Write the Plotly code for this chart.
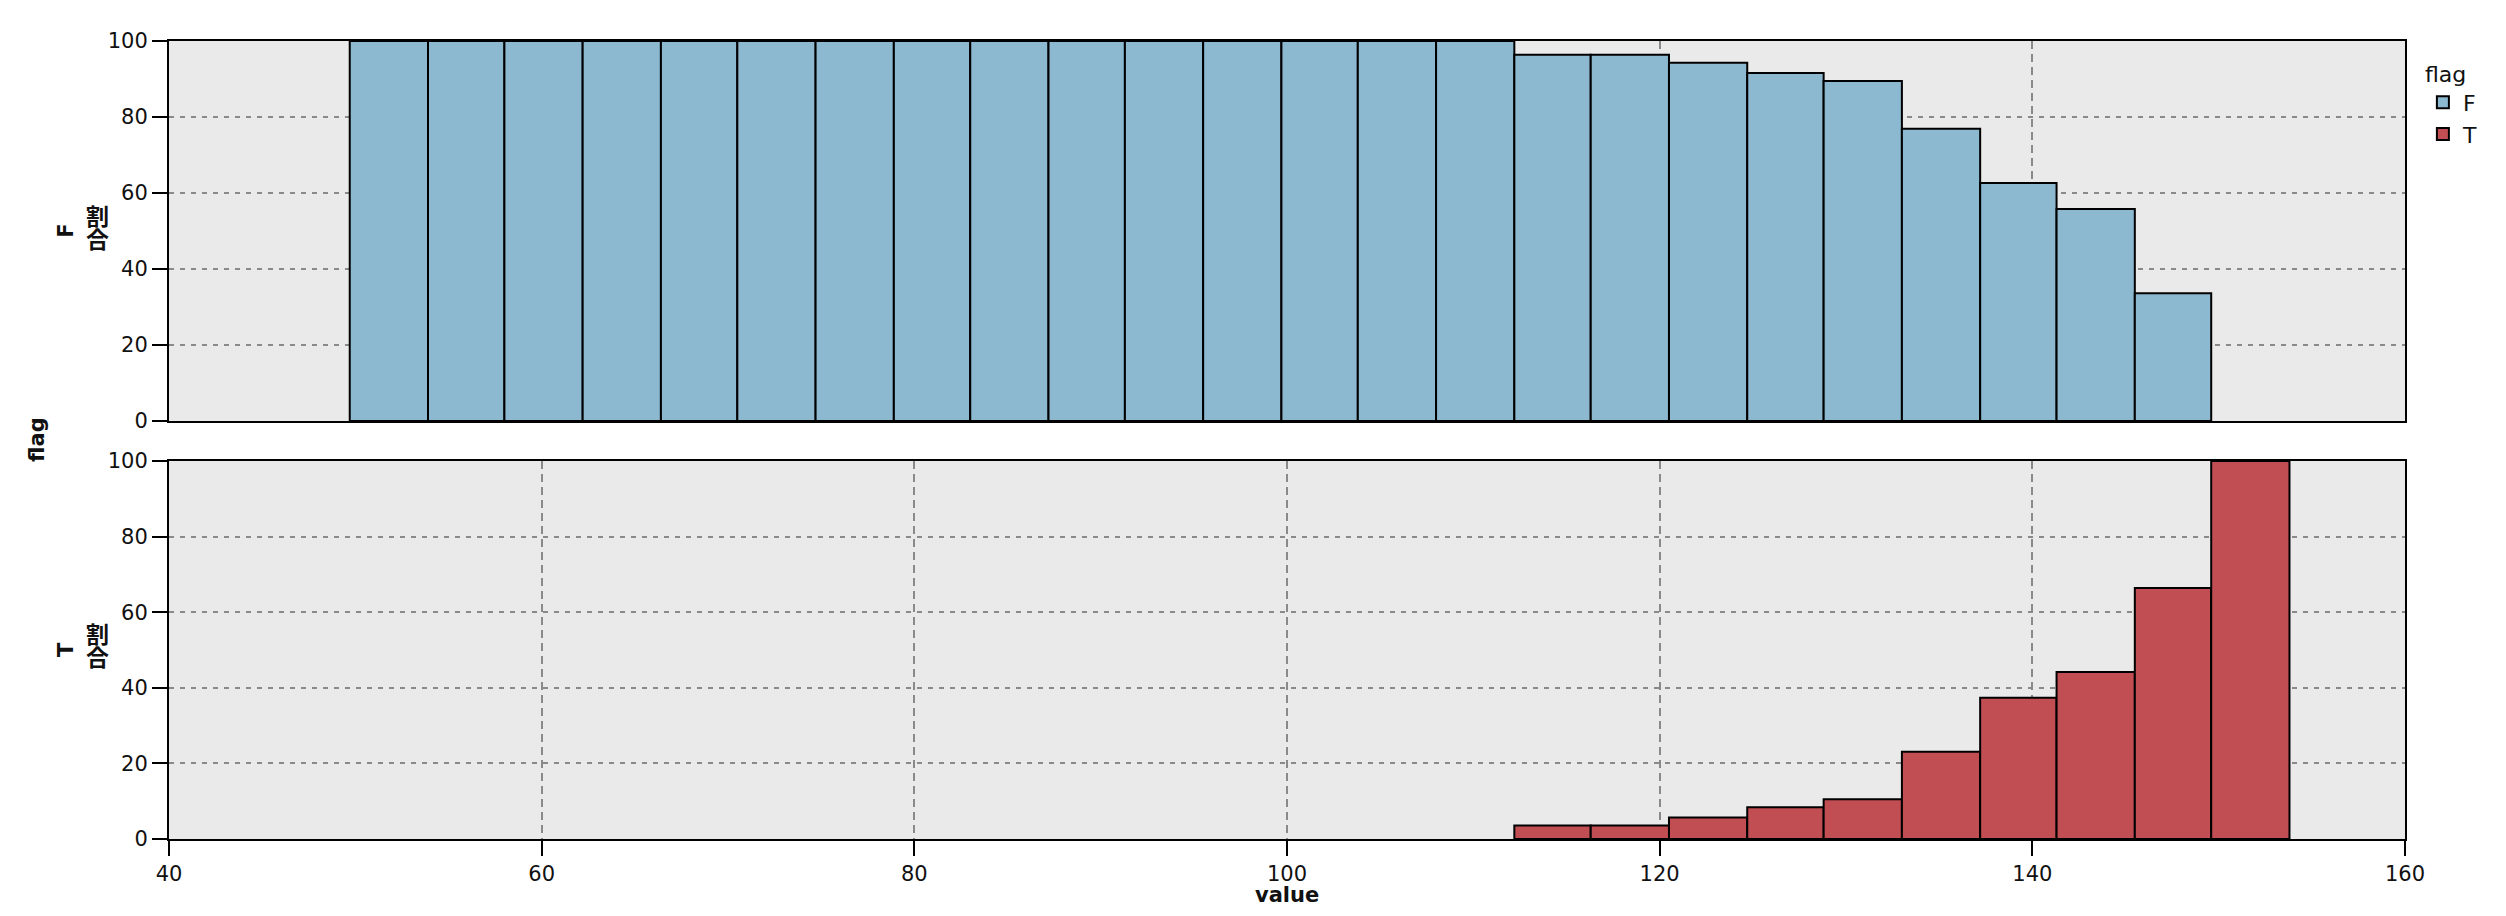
import plotly.graph_objects as go

bin_edges = [49.7, 53.9, 58.0, 62.2, 66.4, 70.5, 74.7, 78.9, 83.0, 87.2, 91.3, 95.5, 99.7,
             103.8, 108.0, 112.2, 116.3, 120.5, 124.7, 128.8, 133.0, 137.2, 141.3, 145.5,
             149.6, 153.8]

# share (割合, %) of each flag per bin
pct_f = [100, 100, 100, 100, 100, 100, 100, 100, 100, 100, 100, 100, 100, 100, 100,
         96.4, 96.4, 94.3, 91.6, 89.5, 76.9, 62.6, 55.8, 33.6, 0]
pct_t = [0, 0, 0, 0, 0, 0, 0, 0, 0, 0, 0, 0, 0, 0, 0,
         3.6, 3.6, 5.7, 8.4, 10.5, 23.1, 37.4, 44.2, 66.4, 100]

x_ticks = [40, 60, 80, 100, 120, 140, 160]
y_ticks = [0, 20, 40, 60, 80, 100]

lefts = bin_edges[:-1]
widths = [b - a for a, b in zip(bin_edges[:-1], bin_edges[1:])]

font = "DejaVu Sans, Noto Sans CJK JP"
col_f = "#8cb8d0"
col_t = "#c04e53"
grid_col = "#8a8a8a"

fig = go.Figure()
fig.add_trace(go.Bar(x=lefts, y=[v if v > 0 else None for v in pct_f], width=widths, offset=0,
                     name="F", marker=dict(color=col_f, line=dict(color="black", width=2)),
                     xaxis="x", yaxis="y"))
fig.add_trace(go.Bar(x=lefts, y=[v if v > 0 else None for v in pct_t], width=widths, offset=0,
                     name="T", marker=dict(color=col_t, line=dict(color="black", width=2)),
                     xaxis="x2", yaxis="y2"))

axis_common = dict(
    range=[40, 160], tickvals=x_ticks, showgrid=True, gridcolor=grid_col, griddash="8px,5px",
    gridwidth=2, showline=True, linecolor="black", linewidth=2, mirror=True, zeroline=False,
)
yaxis_common = dict(
    range=[0, 100], tickvals=y_ticks, showgrid=True, gridcolor=grid_col, griddash="5px,6px",
    gridwidth=2, showline=True, linecolor="black", linewidth=2, mirror=True, zeroline=False,
    ticks="outside", ticklen=15, tickwidth=2, tickcolor="black",
    tickfont=dict(family=font, size=21, color="#111111"),
)

# the page body adds an 8px offset, margins compensate for it
fig.update_layout(
    width=2506, height=916,
    margin=dict(l=161, r=109, t=33, b=85),
    paper_bgcolor="white", plot_bgcolor="#eaeaea",
    barmode="overlay",
    font=dict(family=font, size=21, color="#111111"),
    xaxis=dict(axis_common, domain=[0, 1], anchor="y", showticklabels=False, ticks=""),
    yaxis=dict(yaxis_common, domain=[0.5238, 1], anchor="x"),
    xaxis2=dict(axis_common, domain=[0, 1], anchor="y2", ticks="outside", ticklen=15,
                tickwidth=2, tickcolor="black",
                tickfont=dict(family=font, size=21, color="#111111")),
    yaxis2=dict(yaxis_common, domain=[0, 0.4737], anchor="x2"),
    legend=dict(x=1.008, y=0.985, xanchor="left", yanchor="top",
                title=dict(text="flag", font=dict(size=22)),
                font=dict(size=22), tracegroupgap=0, itemwidth=30),
    showlegend=True,
)

ann = []
bold = dict(family=font, size=21, color="#111111")
cjk = dict(family=font, size=23, color="#111111")
ann.append(dict(text="<b>value</b>", x=0.5, y=-0.0702, xref="paper", yref="paper",
                showarrow=False, xanchor="center", yanchor="middle", font=bold))
ann.append(dict(text="<b>flag</b>", x=-0.059, y=0.5, xref="paper", yref="paper",
                showarrow=False, textangle=-90, xanchor="center", yanchor="middle", font=bold))
for lab, y_lab, y_top, y_bot in [("F", 0.762, 0.7794, 0.7506), ("T", 0.238, 0.2556, 0.2268)]:
    ann.append(dict(text="<b>" + lab + "</b>", x=-0.0461, y=y_lab, xref="paper", yref="paper",
                    showarrow=False, textangle=-90, xanchor="center", yanchor="middle", font=bold))
    ann.append(dict(text="<b>割</b>", x=-0.0322, y=y_top, xref="paper", yref="paper",
                    showarrow=False, xanchor="center", yanchor="middle", font=cjk))
    ann.append(dict(text="<b>合</b>", x=-0.0322, y=y_bot, xref="paper", yref="paper",
                    showarrow=False, xanchor="center", yanchor="middle", font=cjk))
fig.update_layout(annotations=ann)

fig.write_html("out.html")
